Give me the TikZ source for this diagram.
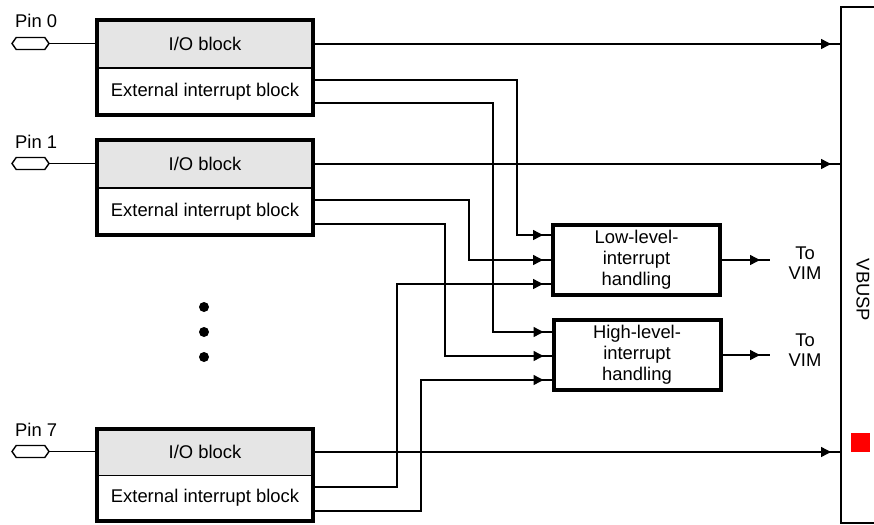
\documentclass[tikz,border=0pt]{standalone}
\usepackage{fontspec}
\setmainfont{Liberation Sans}
\usetikzlibrary{arrows.meta,decorations.markings,shapes.symbols}
\begin{document}
\begin{tikzpicture}[x=1pt,y=-1pt,
  font=\fontsize{18.4}{21}\selectfont,
  wire/.style={line width=1.4pt},
  tiparr/.style={postaction={decorate},
    decoration={markings,mark=at position -10pt with {\arrow{Triangle[length=10pt,width=10pt]}}}},
  iobox/.style={draw, line width=1.4pt, fill=black!10, minimum width=216pt,
    inner sep=0pt, outer sep=0pt},
  extbox/.style={draw, line width=1.4pt, fill=white, minimum width=216pt,
    inner sep=0pt, outer sep=0pt},
  hbox/.style={draw, line width=4pt, minimum width=167pt, minimum height=70pt,
    align=center, inner sep=0pt, outer sep=0pt, font=\fontsize{18.4}{21}\selectfont},
  pinsym/.style={signal, signal to=west and east, draw, line width=1.4pt,
    minimum width=37pt, minimum height=12pt, inner sep=0pt, outer sep=0pt,
    signal pointer angle=110},
  dot/.style={circle, fill=black, minimum size=10pt, inner sep=0pt},
  outline/.style={line width=4pt}
]
\useasboundingbox (0,0) rectangle (874,524);
\clip (0,0) rectangle (874,524);

% bus on the right
\node[draw, wire, minimum width=60pt, minimum height=516pt, inner sep=0pt, outer sep=0pt] (vbus) at (871,265) {};
\node[rotate=-90] (vbuslabel) at (863,290) {VBUSP};
\node[fill=red, minimum size=19pt, inner sep=0pt] (redmark) at (860.5,442.5) {};

% pin blocks
\node[iobox, minimum height=48pt] (io0) at (205,44) {I/O block};
\node[extbox, minimum height=47pt] (ext0) at (205,91.5) {External interrupt block};
\node[iobox, minimum height=48pt] (io1) at (205,164) {I/O block};
\node[extbox, minimum height=47pt] (ext1) at (205,211.5) {External interrupt block};
\node[iobox, minimum height=47pt] (io7) at (205,452) {I/O block};
\node[extbox, minimum height=45pt] (ext7) at (205,498) {External interrupt block};

% pins
\node[pinsym] (pin0) at (30.5,43.5) {};
\node[pinsym] (pin1) at (30.5,163.5) {};
\node[pinsym] (pin7) at (30.5,451.5) {};
\node[anchor=base west, inner sep=0pt] (pin0l) at (15,28) {Pin 0};
\node[anchor=base west, inner sep=0pt] (pin1l) at (15,148) {Pin 1};
\node[anchor=base west, inner sep=0pt] (pin7l) at (15,436) {Pin 7};

% ellipsis dots
\node[dot] (d1) at (204,307) {};
\node[dot] (d2) at (204,332) {};
\node[dot] (d3) at (204,357) {};

% interrupt handling
\node[hbox] (low) at (636.5,260) {Low-level-\\interrupt\\handling};
\node[hbox] (high) at (637,355) {High-level-\\interrupt\\handling};
\node[align=center, inner sep=0pt, font=\fontsize{18.4}{20}\selectfont] (vim1) at (805,263) {To\\VIM};
\node[align=center, inner sep=0pt, font=\fontsize{18.4}{20}\selectfont] (vim2) at (805,350) {To\\VIM};
\coordinate (vimA) at (770,260);
\coordinate (vimB) at (770,355);

% wiring
\draw[wire] (pin0.east) -- (io0.west |- pin0.east);
\draw[wire] (pin1.east) -- (io1.west |- pin1.east);
\draw[wire] (pin7.east) -- (io7.west |- pin7.east);

\draw[wire,tiparr] (io0.east) -- (vbus.west |- io0.east);
\draw[wire,tiparr] (io1.east) -- (vbus.west |- io1.east);
\draw[wire,tiparr] (io7.east) -- (vbus.west |- io7.east);

\draw[wire,tiparr] (ext0.east |- 0,80)  -| (517,235) -- (low.west |- 0,235);
\draw[wire,tiparr] (ext1.east |- 0,200) -| (469,260) -- (low.west |- 0,260);
\draw[wire,tiparr] (ext7.east |- 0,487) -| (397,284) -- (low.west |- 0,284);

\draw[wire,tiparr] (ext0.east |- 0,103) -| (493,332) -- (high.west |- 0,332);
\draw[wire,tiparr] (ext1.east |- 0,224) -| (445,356) -- (high.west |- 0,356);
\draw[wire,tiparr] (ext7.east |- 0,511) -| (421,380) -- (high.west |- 0,380);

\draw[wire,tiparr] (low.east) -- (vimA);
\draw[wire,tiparr] (high.east |- vimB) -- (vimB);

% heavy block outlines
\draw[outline] (io0.north west) rectangle (ext0.south east);
\draw[outline] (io1.north west) rectangle (ext1.south east);
\draw[outline] (io7.north west) rectangle (ext7.south east);
\end{tikzpicture}
\end{document}
